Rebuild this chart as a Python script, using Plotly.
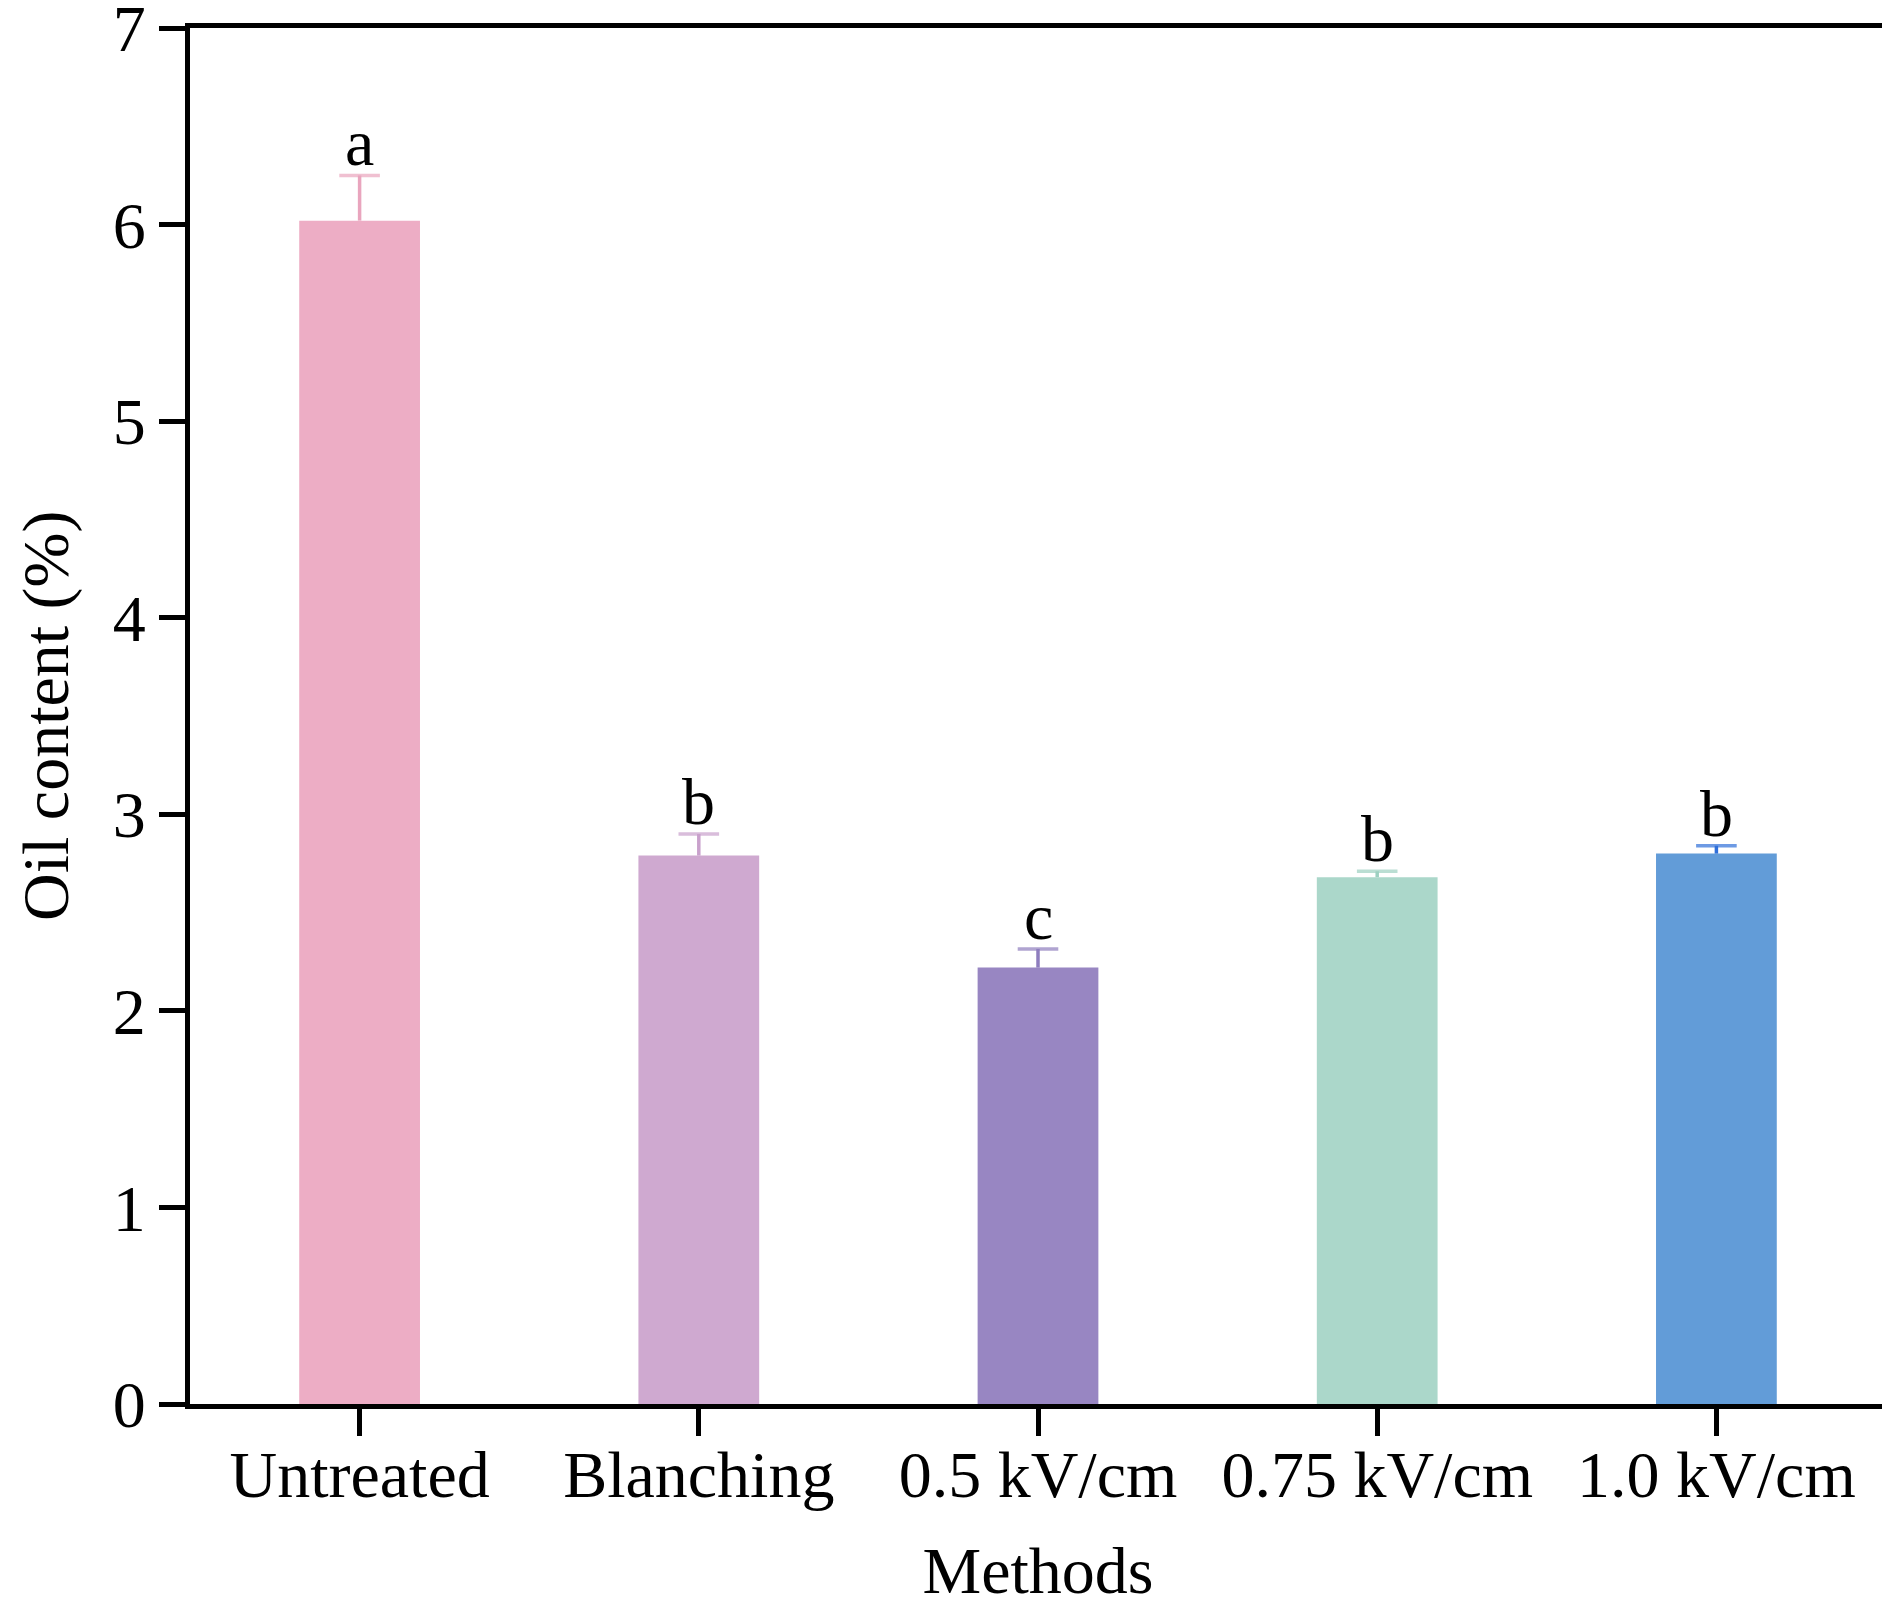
import plotly.graph_objects as go

categories = ["Untreated", "Blanching", "0.5 kV/cm", "0.75 kV/cm", "1.0 kV/cm"]
values = [6.02, 2.79, 2.22, 2.68, 2.80]
errors = [0.23, 0.11, 0.095, 0.03, 0.04]
letters = ["a", "b", "c", "b", "b"]
bar_colors = ["#EDADC5", "#CFA9D0", "#9886C2", "#ABD7CA", "#629CD8"]
err_colors = ["#E9A5BE", "#C9A1CC", "#8E7DBE", "#9DD0C1", "#2F6FD9"]
y_ticks = [0, 1, 2, 3, 4, 5, 6, 7]
x_title = "Methods"
y_title = "Oil content (%)"

FONT = "Liberation Serif, Times New Roman, serif"

fig = go.Figure()
for cat, v, bc in zip(categories, values, bar_colors):
    fig.add_trace(go.Bar(
        x=[cat], y=[v], width=0.356,
        marker=dict(color=bc, line=dict(width=0)),
        showlegend=False, hoverinfo="skip",
    ))

# error bars: stem from bar top to mean+SD, cap only at the top
for cat, v, e, ec in zip(categories, values, errors, err_colors):
    fig.add_trace(go.Scatter(
        x=[cat, cat], y=[v, v + e], mode="lines+markers",
        line=dict(color=ec, width=3.5),
        marker=dict(symbol="line-ew-open", size=[0, 29],
                    line=dict(color=ec, width=3.5), color=ec),
        showlegend=False, hoverinfo="skip",
    ))

for cat, v, e, t in zip(categories, values, errors, letters):
    fig.add_annotation(x=cat, y=v + e, text=t, showarrow=False,
                       yanchor="bottom", xanchor="center", yshift=-6,
                       font=dict(family=FONT, size=66, color="black"))

# y-axis title
fig.add_annotation(xref="paper", yref="paper", x=0, y=0.5, text=y_title,
                   textangle=-90, showarrow=False, xanchor="center", yanchor="middle",
                   xshift=-144, borderpad=0,
                   font=dict(family=FONT, size=66, color="black"))

fig.update_layout(
    width=1890, height=1614,
    margin=dict(l=182, r=12, t=20, b=218, autoexpand=False),
    paper_bgcolor="white", plot_bgcolor="white",
    barmode="overlay",
    font=dict(family=FONT, size=66, color="black"),
    xaxis=dict(
        type="category", categoryorder="array", categoryarray=categories,
        range=[-0.5, 4.5], automargin=False,
        showline=True, linecolor="black", linewidth=5, mirror=True,
        ticks="outside", ticklen=27, tickwidth=5, tickcolor="black",
        ticklabelstandoff=-18,
        showgrid=False, zeroline=False,
        tickfont=dict(family=FONT, size=66, color="black"),
        title=dict(text=x_title, font=dict(family=FONT, size=66, color="black"), standoff=38),
    ),
    yaxis=dict(
        range=[0, 7], tickvals=y_ticks, automargin=False,
        showline=True, linecolor="black", linewidth=5, mirror=True,
        ticks="outside", ticklen=26, tickwidth=5, tickcolor="black",
        ticklabeloverflow="allow",
        showgrid=False, zeroline=False,
        tickfont=dict(family=FONT, size=66, color="black"),
    ),
)

fig.write_html("out.html")
